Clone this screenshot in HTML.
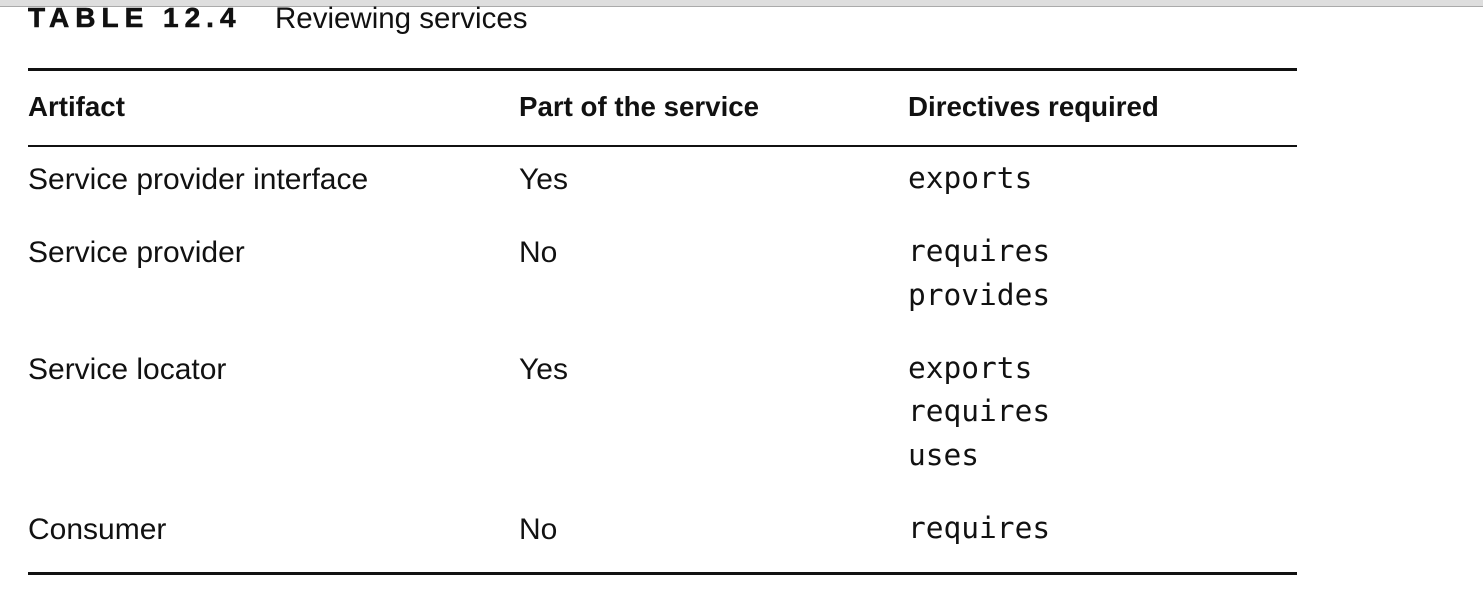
<!DOCTYPE html>
<html><head><style>
body{margin:0;width:1483px;height:595px;background:#fff;position:relative;overflow:hidden;font-family:"Liberation Sans",sans-serif;color:#111}
.t{position:absolute;white-space:nowrap;line-height:1}
.h{font-weight:bold;font-size:27.7px}
.b{font-size:30px}
.m{font-family:"DejaVu Sans Mono","Liberation Mono",monospace;font-size:29.5px}
.l{position:absolute;left:28px;width:1269px;background:#111}
</style></head><body>
<div style="position:absolute;left:0;top:0;width:1483px;height:6px;background:#dedede;border-bottom:1px solid #aaa"></div>
<div class="t" style="left:28px;top:4px;font-weight:bold;font-size:28px;letter-spacing:6px;-webkit-text-stroke:0.6px #111">TABLE 12.4</div>
<div class="t" style="left:275px;top:4px;font-size:29.5px">Reviewing services</div>
<div class="l" style="top:68px;height:3px"></div>
<div class="l" style="top:145px;height:2px"></div>
<div class="l" style="top:572px;height:3px"></div>
<div class="t h" style="left:28px;top:93px">Artifact</div>
<div class="t h" style="left:519px;top:93px">Part of the service</div>
<div class="t h" style="left:908px;top:93px">Directives required</div>

<div class="t b" style="left:28px;top:165px">Service provider interface</div>
<div class="t b" style="left:519px;top:165px">Yes</div>
<div class="t m" style="left:908px;top:164px">exports</div>

<div class="t b" style="left:28px;top:238px">Service provider</div>
<div class="t b" style="left:519px;top:238px">No</div>
<div class="t m" style="left:908px;top:237px">requires</div>
<div class="t m" style="left:908px;top:281px">provides</div>

<div class="t b" style="left:28px;top:355px">Service locator</div>
<div class="t b" style="left:519px;top:355px">Yes</div>
<div class="t m" style="left:908px;top:354px">exports</div>
<div class="t m" style="left:908px;top:397px">requires</div>
<div class="t m" style="left:908px;top:441px">uses</div>

<div class="t b" style="left:28px;top:515px">Consumer</div>
<div class="t b" style="left:519px;top:515px">No</div>
<div class="t m" style="left:908px;top:514px">requires</div>
</body></html>
